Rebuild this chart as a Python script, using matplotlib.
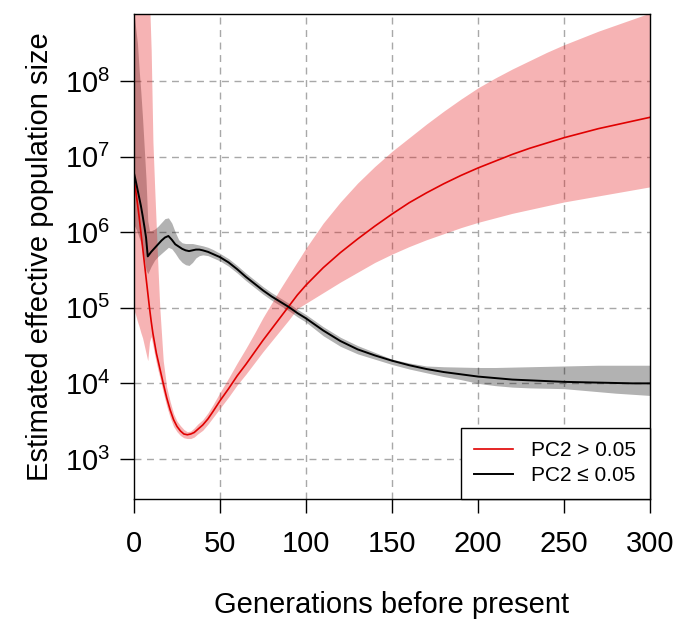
import numpy as np
import matplotlib
matplotlib.use("Agg")
import matplotlib.pyplot as plt

plt.rcParams['font.family'] = ['Liberation Sans', 'DejaVu Sans']
plt.rcParams['mathtext.fontset'] = 'custom'
plt.rcParams['mathtext.rm'] = 'Liberation Sans'
plt.rcParams['mathtext.it'] = 'Liberation Sans'

# ---- data (log10 of Ne) ----
red_gen = [0, 1, 2, 3, 4, 5, 6, 7, 8, 9, 10, 11, 12, 13, 14, 15, 17, 19, 21, 23, 25, 27, 29, 31, 33, 35,
           37, 40, 43, 46, 50, 55, 60, 65, 70, 75, 80, 85, 90, 95, 100, 110, 120, 130, 140, 150, 160,
           170, 180, 190, 200, 210, 220, 230, 240, 250, 260, 270, 280, 290, 300]
red_mean = [6.73, 6.55, 6.38, 6.2, 6.0, 5.8, 5.6, 5.4, 5.2, 5.0, 4.82, 4.66, 4.53, 4.4, 4.3, 4.2, 4.0,
            3.81, 3.65, 3.52, 3.43, 3.37, 3.33, 3.32, 3.33, 3.35, 3.39, 3.45, 3.53, 3.63, 3.77, 3.93, 4.1,
            4.25, 4.41, 4.57, 4.72, 4.87, 5.02, 5.17, 5.3, 5.53, 5.73, 5.91, 6.08, 6.24, 6.39, 6.52,
            6.64, 6.75, 6.85, 6.94, 7.03, 7.11, 7.18, 7.25, 7.31, 7.37, 7.42, 7.47, 7.52]
red_low = [4.97, 4.9, 4.82, 4.75, 4.67, 4.6, 4.5, 4.4, 4.3, 4.55, 4.62, 4.5, 4.38, 4.27, 4.17, 4.08,
           3.88, 3.7, 3.55, 3.43, 3.36, 3.31, 3.28, 3.27, 3.27, 3.29, 3.33, 3.38, 3.46, 3.55, 3.67,
           3.82, 3.98, 4.12, 4.27, 4.42, 4.56, 4.7, 4.84, 4.99, 5.06, 5.2, 5.34, 5.47, 5.6, 5.71,
           5.81, 5.9, 5.98, 6.06, 6.13, 6.19, 6.25, 6.3, 6.35, 6.4, 6.44, 6.48, 6.52, 6.56, 6.6]
red_high = [9.5, 9.5, 9.5, 9.5, 9.5, 9.5, 9.5, 9.5, 9.5, 9.1, 8.4, 7.2, 6.6, 6.05, 5.5, 5.0, 4.3,
            3.95, 3.76, 3.6, 3.5, 3.44, 3.39, 3.36, 3.37, 3.41, 3.46, 3.52, 3.61, 3.72, 3.88, 4.07,
            4.27, 4.46, 4.66, 4.87, 5.06, 5.25, 5.43, 5.61, 5.79, 6.12, 6.4, 6.65, 6.87, 7.07, 7.25,
            7.43, 7.6, 7.76, 7.91, 8.04, 8.16, 8.27, 8.38, 8.48, 8.57, 8.66, 8.74, 8.82, 8.9]

blk_gen = [0, 1, 2, 3, 4, 5, 6, 7, 8, 9, 10, 12, 14, 16, 18, 20, 22, 24, 26, 28, 30, 32, 34, 36, 38,
           40, 43, 46, 50, 55, 60, 65, 70, 75, 80, 85, 90, 95, 100, 110, 120, 130, 140, 150, 160,
           170, 180, 190, 200, 210, 220, 230, 240, 250, 260, 270, 280, 290, 300]
blk_mean = [6.78, 6.68, 6.57, 6.46, 6.35, 6.22, 6.08, 5.93, 5.68, 5.71, 5.74, 5.79, 5.84, 5.89, 5.93,
            5.95, 5.9, 5.84, 5.81, 5.78, 5.76, 5.75, 5.76, 5.77, 5.77, 5.76, 5.74, 5.71, 5.67, 5.6,
            5.51, 5.41, 5.32, 5.23, 5.15, 5.08, 5.01, 4.93, 4.86, 4.7, 4.56, 4.45, 4.37, 4.3, 4.24,
            4.19, 4.15, 4.12, 4.09, 4.07, 4.05, 4.04, 4.03, 4.02, 4.015, 4.01, 4.005, 4.0, 4.0]
blk_low = [6.1, 6.05, 6.0, 5.93, 5.86, 5.77, 5.65, 5.5, 5.45, 5.5, 5.55, 5.63, 5.68, 5.72, 5.76, 5.8,
           5.78, 5.72, 5.65, 5.6, 5.57, 5.56, 5.6, 5.66, 5.69, 5.7, 5.69, 5.66, 5.62, 5.55, 5.46,
           5.36, 5.27, 5.18, 5.1, 5.03, 4.96, 4.88, 4.81, 4.63, 4.49, 4.39, 4.32, 4.25, 4.19, 4.14,
           4.09, 4.05, 4.0, 3.97, 3.95, 3.94, 3.935, 3.93, 3.91, 3.89, 3.87, 3.855, 3.84]
blk_high = [8.9, 8.7, 8.5, 8.15, 7.85, 7.5, 7.1, 6.7, 6.15, 6.02, 6.02, 6.04, 6.08, 6.13, 6.18, 6.19,
            6.12, 6.0, 5.9, 5.86, 5.85, 5.85, 5.85, 5.84, 5.83, 5.82, 5.8, 5.77, 5.72, 5.65, 5.56,
            5.46, 5.37, 5.28, 5.2, 5.13, 5.06, 4.98, 4.91, 4.75, 4.61, 4.5, 4.41, 4.32, 4.27, 4.23,
            4.22, 4.215, 4.21, 4.21, 4.215, 4.22, 4.225, 4.23, 4.235, 4.24, 4.24, 4.24, 4.24]

x_ticks = [0, 50, 100, 150, 200, 250, 300]
y_exps = [3, 4, 5, 6, 7, 8]
labels = ['PC2 > 0.05', 'PC2 \u2264 0.05']

red_c = '#e00000'
fig = plt.figure(figsize=(6.77, 6.21), dpi=100)
ax = fig.add_axes([134/677, 1 - 499/621, (650-134)/677, (499-14)/621])

p = lambda v: 10 ** np.asarray(v)
ax.fill_between(blk_gen, p(blk_low), p(blk_high), color='black', alpha=0.3, lw=0)
ax.fill_between(red_gen, p(red_low), p(red_high), color='#e41a1c', alpha=0.33, lw=0)
ax.plot(red_gen, p(red_mean), color=red_c, lw=1.2, label=labels[0])
ax.plot(blk_gen, p(blk_mean), color='black', lw=1.4, label=labels[1])

ax.set_yscale('log')
ax.set_xlim(0, 300)
ax.set_ylim(10**2.47, 10**8.887)
ax.set_xticks(x_ticks)
ax.set_xticklabels([str(t) for t in x_ticks])
ax.set_yticks([10**e for e in y_exps])
ax.set_yticklabels([r'$\mathregular{10^{%d}}$' % e for e in y_exps])
ax.yaxis.set_minor_locator(matplotlib.ticker.NullLocator())
ax.tick_params(axis='both', direction='out', length=10, width=1.0, labelsize=21, color='black')
ax.tick_params(axis='x', pad=12)
ax.tick_params(axis='y', pad=7)

for gx in x_ticks[1:-1]:
    ax.axvline(gx, color='#a8a8a8', lw=1.0, ls=(0, (5, 4)), zorder=0)
for e in y_exps:
    ax.axhline(10**e, color='#a8a8a8', lw=1.0, ls=(0, (5, 4)), zorder=0)

for s in ax.spines.values():
    s.set_linewidth(1.0)

ax.set_xlabel('Generations before present', fontsize=21, labelpad=24)
ax.set_ylabel('Estimated effective population size', fontsize=21, labelpad=8)

leg = ax.legend(loc='lower right', fontsize=15, frameon=True, fancybox=False, framealpha=1,
                edgecolor='black', borderaxespad=0, handlelength=1.85, handletextpad=0.9,
                labelspacing=0.3, borderpad=0.65)
leg.get_frame().set_linewidth(1.0)

fig.savefig('out.png', dpi=100)
